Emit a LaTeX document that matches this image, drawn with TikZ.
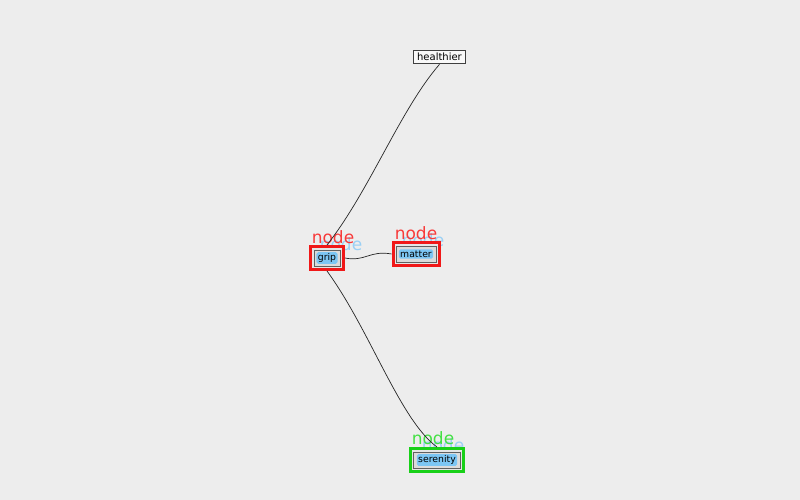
\documentclass[tikz,border=0pt]{standalone}
\usepackage{fontspec}
\setmainfont{DejaVu Sans}
\definecolor{sky}{HTML}{7CC6F4}
\definecolor{skyt}{HTML}{9AD0F5}
\definecolor{redf}{HTML}{F01818}
\definecolor{redt}{HTML}{F83A3A}
\definecolor{grnf}{HTML}{18D018}
\definecolor{grnt}{HTML}{44E044}
\begin{document}
\begin{tikzpicture}[x=1pt,y=-1pt,
  frame/.style={draw=#1,line width=3pt,fill=gray!20,minimum height=23pt,inner sep=0pt},
  mid/.style={draw=gray!75!black,line width=0.8pt,fill=gray!28,minimum height=16pt,inner sep=0pt},
  lab/.style={fill=sky,rounded corners=1.8pt,inner sep=1.4pt,font=\fontsize{9.3}{10}\selectfont},
  tag/.style={font=\fontsize{17}{18}\selectfont,inner sep=0pt},
  edge/.style={draw=black!85,line width=0.7pt}]
\fill[gray!14] (0,0) rectangle (800,500);
\useasboundingbox (0,0) rectangle (800,500);
% shadow tags (drawn first, partly hidden by frames)
\node[tag,text=skyt] (t1b) at (341,244) {node};
\node[tag,text=skyt] (t2b) at (423,240) {node};
\node[tag,text=skyt] (t3b) at (443,445) {node};
% healthier
\node[draw=black!75,fill=white!95!gray,line width=0.9pt,inner xsep=4pt,inner ysep=3pt,font=\fontsize{10}{11}\selectfont] (h) at (439.5,57) {healthier};
% grip
\node[frame=redf,minimum width=33pt] (gripF) at (327,258) {};
\node[mid,minimum width=26pt] (gripM) at (327,258) {};
\node[lab] (grip) at (327,258) {grip};
% matter
\node[frame=redf,minimum width=46pt] (matterF) at (416,254) {};
\node[mid,minimum width=40pt] (matterM) at (416,254) {};
\node[lab] (matter) at (416,254) {matter};
% serenity
\node[frame=grnf,minimum width=53pt] (serF) at (437,460) {};
\node[mid,minimum width=47pt] (serM) at (437,460) {};
\node[lab] (ser) at (437,460) {serenity};
% main tags
\node[tag,text=redt] (t1) at (333,237) {node};
\node[tag,text=redt] (t2) at (416,233) {node};
\node[tag,text=grnt] (t3) at (433,438) {node};
% edges
\draw[edge] (h.south) .. controls (400,110) and (370,190) .. (gripF.north);
\draw[edge] (gripF.east) .. controls (365,262) and (370,250) .. (matterF.west);
\draw[edge] (gripF.south) .. controls (370,330) and (400,420) .. (serF.north);
\end{tikzpicture}
\end{document}
